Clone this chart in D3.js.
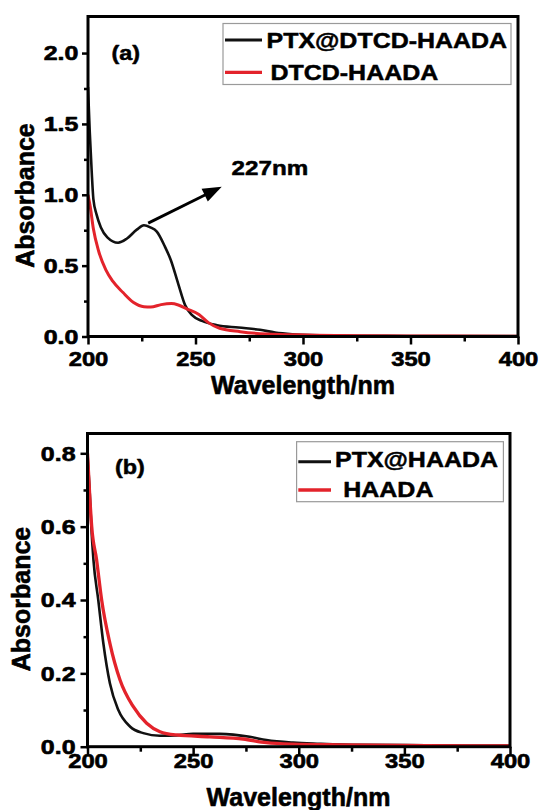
<!DOCTYPE html>
<html><head><meta charset="utf-8">
<script src="https://cdn.jsdelivr.net/npm/d3@7"></script>
<style>
html,body{margin:0;padding:0;background:#fff;}
svg{display:block;}
</style></head><body>
<svg id="chart" width="540" height="810"></svg>
<script>
// ---------- DATA ----------
const wavelengthTicks = [200, 250, 300, 350, 400];
const wavelengthMinorTicks = [225, 275, 325, 375];
const absTicksA = [0, 0.5, 1.0, 1.5, 2.0];
const absMinorTicksA = [0.25, 0.75, 1.25, 1.75];
const absTicksB = [0, 0.2, 0.4, 0.6, 0.8];
const absMinorTicksB = [0.1, 0.3, 0.5, 0.7];

const seriesNamesA = ["PTX@DTCD-HAADA", "DTCD-HAADA"];
const seriesNamesB = ["PTX@HAADA", "HAADA"];
const panelLabels = ["(a)", "(b)"];
const peakLabel = "227nm";
const xTitle = "Wavelength/nm";
const yTitle = "Absorbance";

// (a) PTX@DTCD-HAADA
const ptxDtcdWl  = [200, 200.8, 201.7, 202.5, 204, 206, 209, 214, 218, 222.7, 226, 229, 232, 235.6, 238.5, 242, 245.2, 248.4, 253, 260, 270, 280, 287, 295, 303, 330, 350, 400];
const ptxDtcdAbs = [1.76, 1.45, 1.17, 0.97, 0.86, 0.77, 0.70, 0.662, 0.69, 0.754, 0.785, 0.77, 0.74, 0.64, 0.54, 0.37, 0.22, 0.15, 0.11, 0.08, 0.063, 0.047, 0.028, 0.016, 0.010, 0.005, 0.004, 0.003];
// (a) DTCD-HAADA
const dtcdWl  = [200, 201, 202.5, 205, 208.3, 211.5, 216.3, 221.2, 226, 229.2, 234, 238.8, 242, 246, 251.6, 256, 261.2, 270.8, 283, 301.7, 350, 400];
const dtcdAbs = [1.0, 0.92, 0.76, 0.60, 0.47, 0.39, 0.31, 0.24, 0.21, 0.208, 0.225, 0.232, 0.222, 0.195, 0.155, 0.098, 0.058, 0.034, 0.018, 0.011, 0.004, 0.002];
// (b) PTX@HAADA
const ptxHaadaWl  = [200, 201, 201.8, 202.8, 205.1, 207.5, 210.6, 214.6, 220.1, 226.4, 234.3, 242, 250, 262.6, 276.8, 284.7, 297.3, 310, 328.8, 360, 400];
const ptxHaadaAbs = [0.80, 0.70, 0.60, 0.51, 0.40, 0.282, 0.173, 0.10, 0.055, 0.037, 0.030, 0.031, 0.035, 0.035, 0.027, 0.018, 0.011, 0.008, 0.005, 0.004, 0.003];
// (b) HAADA
const haadaWl  = [200, 201, 202, 204.3, 206.7, 210.6, 215.4, 221.7, 228, 234.3, 242.2, 257.9, 273.7, 284.7, 297.3, 320, 360, 400];
const haadaAbs = [0.80, 0.69, 0.60, 0.51, 0.40, 0.282, 0.182, 0.109, 0.064, 0.041, 0.032, 0.027, 0.021, 0.011, 0.007, 0.005, 0.003, 0.002];

// annotation (data coordinates)
const arrowTail = [228, 0.80];
const arrowTip  = [262.2, 1.057];
const peakLabelPos = [266.8, 1.139];

// ---------- DRAW ----------
const FONT = '"Liberation Sans", Arial, Helvetica, sans-serif';
const BLACK = "#111111", RED = "#e3232b";
const svg = d3.select("#chart");

function styledText(sel, size, sw) {
  return sel.attr("font-family", FONT).attr("font-weight", "bold").attr("font-size", size)
    .attr("fill", "#000").attr("stroke", "#000").attr("stroke-width", sw == null ? 0.5 : sw)
    .attr("stroke-linejoin", "round");
}

function drawPanel(p) {
  const x = d3.scaleLinear().domain([200, 400]).range([p.left, p.right]);
  const y = d3.scaleLinear().domain([0, p.yMax]).range([p.bottom, p.top]);
  const g = svg.append("g");
  const clipId = "clip-" + p.id;
  svg.append("defs").append("clipPath").attr("id", clipId).append("rect")
    .attr("x", p.left).attr("y", p.top).attr("width", p.right - p.left).attr("height", p.bottom - p.top);

  const line = d3.line().x(d => x(d[0])).y(d => y(d[1])).curve(d3.curveMonotoneX);
  p.series.forEach(s => {
    g.append("path").datum(d3.zip(s.x, s.y))
      .attr("clip-path", `url(#${clipId})`)
      .attr("fill", "none").attr("stroke", s.color).attr("stroke-width", s.width)
      .attr("stroke-linejoin", "round").attr("d", line);
  });

  // x axis
  const xa = g.append("g").attr("transform", `translate(0,${p.bottom})`)
    .call(d3.axisBottom(x).tickValues(wavelengthTicks).tickSize(8).tickFormat(d3.format("d")));
  xa.select(".domain").remove();
  xa.selectAll("line").attr("stroke", "#000").attr("stroke-width", 2.5);
  xa.selectAll("text").call(s => styledText(s, 19.5, 0.6))
    .attr("y", p.xLabelDy).attr("dy", null).attr("transform", "scale(1.22,1)");
  const xm = g.append("g").attr("transform", `translate(0,${p.bottom})`)
    .call(d3.axisBottom(x).tickValues(wavelengthMinorTicks).tickSize(5).tickFormat(() => ""));
  xm.select(".domain").remove();
  xm.selectAll("line").attr("stroke", "#000").attr("stroke-width", 2.5);

  // y axis
  const ya = g.append("g").attr("transform", `translate(${p.left},0)`)
    .call(d3.axisLeft(y).tickValues(p.yTicks).tickSize(p.yTickLen).tickFormat(d3.format(".1f")));
  ya.select(".domain").remove();
  ya.selectAll("line").attr("stroke", "#000").attr("stroke-width", 2.5);
  ya.selectAll("text").call(s => styledText(s, 19.5, 0.6))
    .attr("x", -p.yLabelGap / 1.28).attr("y", 6.9).attr("dy", null).attr("transform", "scale(1.28,1)");
  const ym = g.append("g").attr("transform", `translate(${p.left},0)`)
    .call(d3.axisLeft(y).tickValues(p.yMinor).tickSize(4).tickFormat(() => ""));
  ym.select(".domain").remove();
  ym.selectAll("line").attr("stroke", "#000").attr("stroke-width", 2.5);

  // frame
  g.append("rect").attr("x", p.left).attr("y", p.top)
    .attr("width", p.right - p.left).attr("height", p.bottom - p.top)
    .attr("fill", "none").attr("stroke", "#000").attr("stroke-width", 3);

  // titles
  styledText(g.append("text"), 25, 0.6).attr("text-anchor", "middle")
    .attr("x", p.xTitle[0]).attr("y", p.xTitle[1]).text(xTitle);
  styledText(g.append("text"), 25, 0.6).attr("text-anchor", "middle")
    .attr("transform", `translate(${p.yTitle[0]},${p.yTitle[1]}) rotate(-90)`).text(yTitle);

  // panel label
  styledText(g.append("text"), 20.5)
    .attr("transform", `translate(${p.label[0]},${p.label[1]}) scale(1.14,1)`).text(p.labelText);

  // legend
  const L = p.legend;
  g.append("rect").attr("x", L.x0).attr("y", L.y0).attr("width", L.x1 - L.x0).attr("height", L.y1 - L.y0)
    .attr("fill", "#fff").attr("stroke", "#9a9a9a").attr("stroke-width", 1.2);
  p.series.forEach((s, i) => {
    g.append("line").attr("x1", L.lx0).attr("x2", L.lx1).attr("y1", L.ly[i]).attr("y2", L.ly[i])
      .attr("stroke", s.color).attr("stroke-width", s.width + 0.3);
    styledText(g.append("text"), 22.5)
      .attr("transform", `translate(${L.tx[i]},${L.ty[i]}) scale(1.11,1)`).text(s.name);
  });

  return {x, y, g};
}

const A = drawPanel({
  id: "a", left: 88, right: 518, top: 16.5, bottom: 336.5, yMax: 2.258,
  yTicks: absTicksA, yMinor: absMinorTicksA, yTickLen: 6, yLabelGap: 9.7, xLabelDy: 30,
  xTitle: [303, 394], yTitle: [34, 195.5], label: [111.5, 59.5], labelText: panelLabels[0],
  legend: {x0: 223, x1: 511, y0: 23.5, y1: 84.5, lx0: 225, lx1: 262, ly: [40, 72.3], tx: [266.5, 270.5], ty: [48, 80]},
  series: [
    {name: seriesNamesA[0], x: ptxDtcdWl, y: ptxDtcdAbs, color: BLACK, width: 2.6},
    {name: seriesNamesA[1], x: dtcdWl, y: dtcdAbs, color: RED, width: 3.0}
  ]
});

const B = drawPanel({
  id: "b", left: 87.5, right: 510, top: 433.5, bottom: 746.7, yMax: 0.854,
  yTicks: absTicksB, yMinor: absMinorTicksB, yTickLen: 7, yLabelGap: 12, xLabelDy: 21.5,
  xTitle: [298.5, 806], yTitle: [30, 599], label: [115, 474], labelText: panelLabels[1],
  legend: {x0: 296.6, x1: 503.4, y0: 441.7, y1: 501.7, lx0: 298.3, lx1: 331, ly: [461.7, 490], tx: [335, 343.3], ty: [466.8, 496.8]},
  series: [
    {name: seriesNamesB[0], x: ptxHaadaWl, y: ptxHaadaAbs, color: BLACK, width: 2.6},
    {name: seriesNamesB[1], x: haadaWl, y: haadaAbs, color: RED, width: 3.3}
  ]
});

// arrow annotation in panel (a)
(function () {
  const sx = A.x(arrowTail[0]), sy = A.y(arrowTail[1]);
  const tx = A.x(arrowTip[0]),  ty = A.y(arrowTip[1]);
  const len = Math.hypot(tx - sx, ty - sy);
  const ux = (tx - sx) / len, uy = (ty - sy) / len;
  const nx = -uy, ny = ux;
  const hl = 19, hw = 7;
  const bx = tx - ux * hl, by = ty - uy * hl;
  A.g.append("line").attr("x1", sx).attr("y1", sy).attr("x2", bx + ux * 2).attr("y2", by + uy * 2)
    .attr("stroke", "#000").attr("stroke-width", 2.8);
  A.g.append("path")
    .attr("d", `M${tx},${ty}L${bx + nx * hw},${by + ny * hw}L${bx - nx * hw},${by - ny * hw}Z`)
    .attr("fill", "#000");
  styledText(A.g.append("text"), 20.5)
    .attr("transform", `translate(${A.x(peakLabelPos[0])},${A.y(peakLabelPos[1])}) scale(1.18,1)`)
    .text(peakLabel);
})();
</script>
</body></html>
